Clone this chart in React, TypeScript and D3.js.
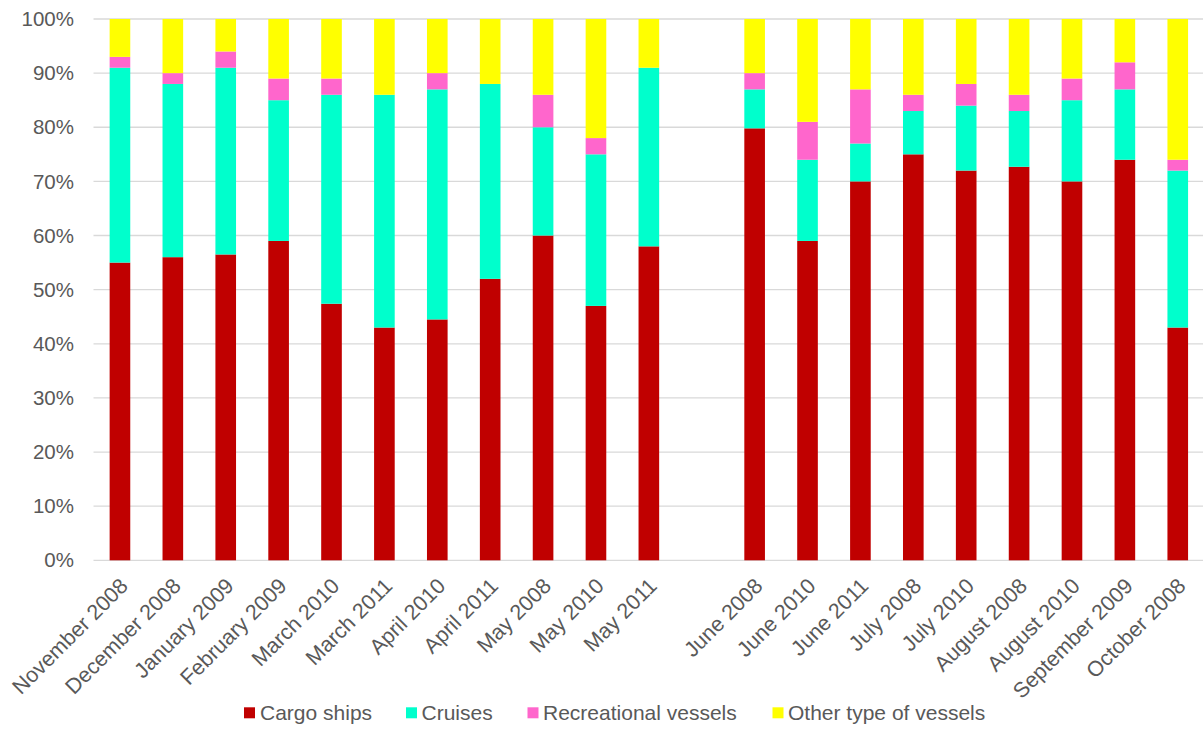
import React from "react";
import * as d3 from "d3";

const categories = [
  "November 2008", "December 2008", "January 2009", "February 2009", "March 2010",
  "March 2011", "April 2010", "April 2011", "May 2008", "May 2010", "May 2011", "",
  "June 2008", "June 2010", "June 2011", "July 2008", "July 2010", "August 2008",
  "August 2010", "September 2009", "October 2008",
];
const cargo = [55, 56, 56.5, 59, 47.4, 43, 44.5, 52, 60, 47, 58, 0, 79.8, 59, 70, 75, 72, 72.7, 70, 74, 43];
const cruises = [36, 32, 34.5, 26, 38.6, 43, 42.5, 36, 20, 28, 33, 0, 7.2, 15, 7, 8, 12, 10.3, 15, 13, 29];
const recreational = [2, 2, 3, 4, 3, 0, 3, 0, 6, 3, 0, 0, 3, 7, 10, 3, 4, 3, 4, 5, 2];
const other = [7, 10, 6, 11, 11, 14, 10, 12, 14, 22, 9, 0, 10, 19, 13, 14, 12, 14, 11, 8, 26];
const seriesNames = ["Cargo ships", "Cruises", "Recreational vessels", "Other type of vessels"];
const seriesColors = ["#C00000", "#00FFCC", "#FF66CC", "#FFFF00"];
const yTicks = [0, 10, 20, 30, 40, 50, 60, 70, 80, 90, 100];

const W = 1203;
const H = 729;
const FONT = "'Liberation Sans', Arial, sans-serif";
const TEXT = "#595959";

export default function App() {
  const rows = categories.map((c, i) => ({
    idx: i,
    s0: cargo[i],
    s1: cruises[i],
    s2: recreational[i],
    s3: other[i],
  }));
  const keys = ["s0", "s1", "s2", "s3"];
  const stacked = d3.stack<any>().keys(keys)(rows);

  const x = d3
    .scaleBand<number>()
    .domain(categories.map((_, i) => i))
    .range([93.5, 1204.2])
    .paddingInner(0.61)
    .paddingOuter(0.305);
  const y = d3.scaleLinear().domain([0, 100]).range([560.3, 19]);

  const legendItems = [
    { sq: 244, tx: 260 },
    { sq: 406, tx: 421.5 },
    { sq: 527.5, tx: 543 },
    { sq: 772.5, tx: 788 },
  ];

  return (
    <svg
      width={W}
      height={H}
      style={{ position: "absolute", left: 0, top: 0, background: "#fff" }}
      fontFamily={FONT}
    >
      <rect width={W} height={H} fill="#fff" />
      {yTicks.map((t) => (
        <g key={t}>
          <line x1={93.5} x2={1204} y1={y(t)} y2={y(t)} stroke="#D9D9D9" strokeWidth={1.3} />
          <text x={74} y={y(t)} dy="0.35em" textAnchor="end" fontSize={20.5} fill={TEXT}>
            {t}%
          </text>
        </g>
      ))}
      {stacked.map((layer, si) => (
        <g key={si} fill={seriesColors[si]}>
          {layer.map((d, i) =>
            d[1] - d[0] > 0 ? (
              <rect
                key={i}
                x={x(i)}
                width={x.bandwidth()}
                y={y(d[1])}
                height={y(d[0]) - y(d[1])}
              />
            ) : null
          )}
        </g>
      ))}
      {categories.map((c, i) => {
        const cx = (x(i) as number) + x.bandwidth() / 2;
        return c ? (
          <text
            key={i}
            transform={`translate(${cx + 4},${582}) rotate(-45)`}
            textAnchor="end"
            dy="0.35em"
            fontSize={21.5}
            fill={TEXT}
          >
            {c}
          </text>
        ) : null;
      })}
      {seriesNames.map((n, i) => (
        <g key={n}>
          <rect x={legendItems[i].sq} y={707.3} width={11} height={11} fill={seriesColors[i]} />
          <text x={legendItems[i].tx} y={720} fontSize={21} fill={TEXT}>
            {n}
          </text>
        </g>
      ))}
    </svg>
  );
}
